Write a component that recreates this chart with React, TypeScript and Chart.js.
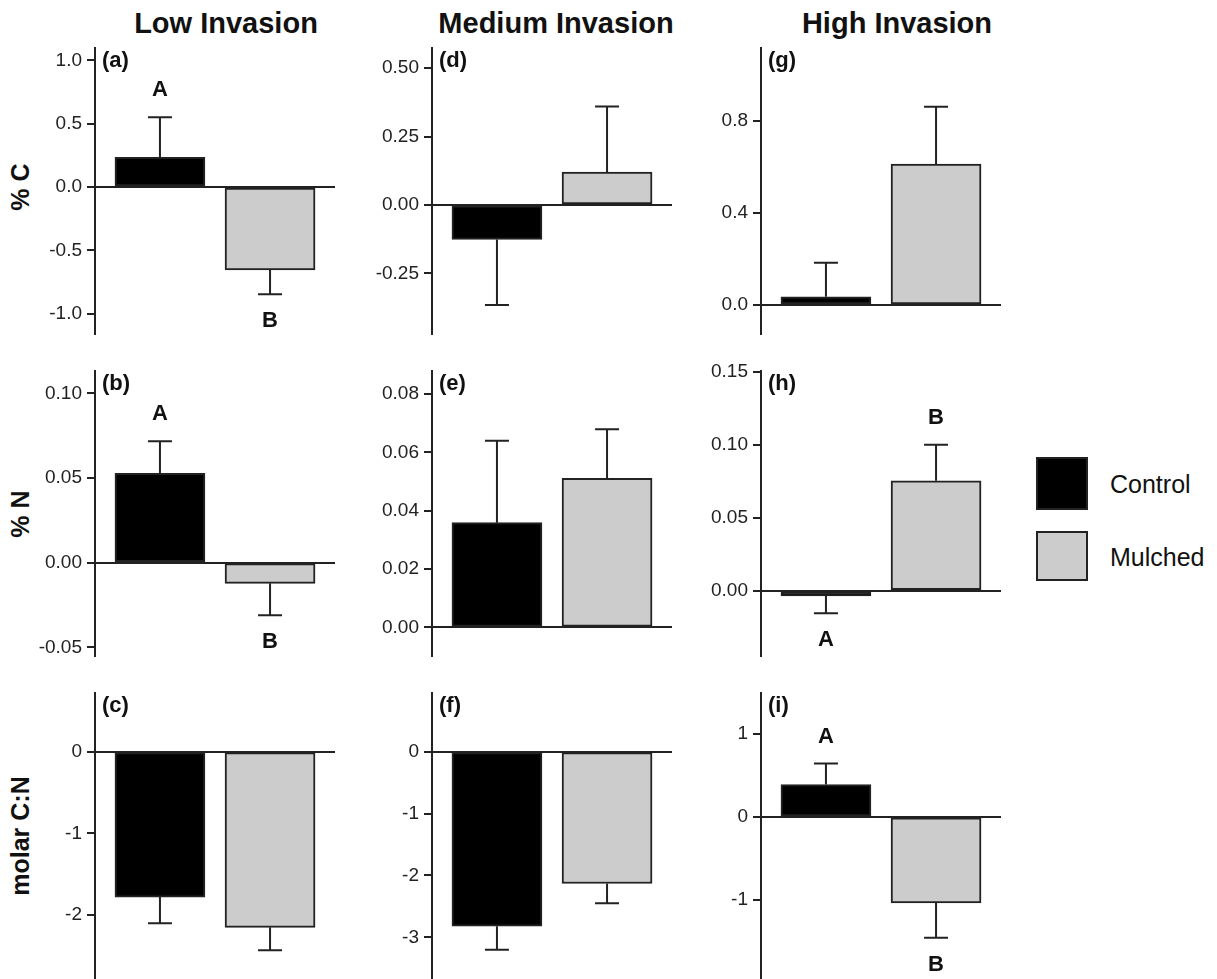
import React, { useEffect, useRef } from 'react';
import { Chart, registerables } from 'chart.js';

Chart.register(...registerables);

// ---------- data ----------
const columnTitles = ['Low Invasion', 'Medium Invasion', 'High Invasion'];
const rowTitles = ['% C', '% N', 'molar C:N'];
const treatments = ['Control', 'Mulched'];
const barColors = ['#000000', '#cccccc'];

// % C  (columns: Low, Medium, High)
const controlC = [0.234, -0.126, 0.036];
const mulchedC = [-0.655, 0.12, 0.613];
const controlCse = [0.316, 0.24, 0.148];
const mulchedCse = [0.192, 0.24, 0.249];
const ticksC = [[-1, -0.5, 0, 0.5, 1], [-0.25, 0, 0.25, 0.5], [0, 0.4, 0.8]];
const decimalsC = [1, 2, 1];
const rangeC = [[-1.16, 1.097], [-0.472, 0.574], [-0.126, 1.117]];
const sigC = [['A', 'B'], null, null];

// % N
const controlN = [0.0528, 0.0359, -0.0036];
const mulchedN = [-0.0122, 0.0511, 0.0753];
const controlNse = [0.0189, 0.0281, 0.0119];
const mulchedNse = [0.0188, 0.0168, 0.0247];
const ticksN = [[-0.05, 0, 0.05, 0.1], [0, 0.02, 0.04, 0.06, 0.08], [0, 0.05, 0.1, 0.15]];
const decimalsN = [2, 2, 2];
const rangeN = [[-0.0551, 0.1132], [-0.0098, 0.0879], [-0.0447, 0.1505]];
const sigN = [['A', 'B'], null, ['A', 'B']];

// molar C:N
const controlCN = [-1.78, -2.82, 0.39];
const mulchedCN = [-2.15, -2.13, -1.04];
const controlCNse = [0.32, 0.38, 0.255];
const mulchedCNse = [0.28, 0.32, 0.42];
const ticksCN = [[-2, -1, 0], [-3, -2, -1, 0], [-1, 0, 1]];
const decimalsCN = [0, 0, 0];
const rangeCN = [[-2.782, 0.718], [-3.672, 0.947], [-1.96, 1.497]];
const sigCN = [null, null, ['A', 'B']];

const panelLabels = [['(a)', '(d)', '(g)'], ['(b)', '(e)', '(h)'], ['(c)', '(f)', '(i)']];

// ---------- layout ----------
const FONT = '"Liberation Sans", Arial, Helvetica, sans-serif';
const AXIS_X = [95, 432, 761];
const AXIS_TOP = [48, 371, 693];
const AXIS_LEN = [286, 285, 286];
const Y_W = 90;
const PLOT_W = 240;
const PAD_T = 20;
const PAD_B = 20;
const PAD_R = 10;
const INK = '#222222';

type PanelDef = {
  row: number;
  col: number;
  means: number[];
  se: number[];
  ticks: number[];
  dec: number;
  range: number[];
  sig: string[] | null;
  label: string;
};

const rowsData = [
  { c: controlC, m: mulchedC, cs: controlCse, ms: mulchedCse, t: ticksC, d: decimalsC, r: rangeC, s: sigC },
  { c: controlN, m: mulchedN, cs: controlNse, ms: mulchedNse, t: ticksN, d: decimalsN, r: rangeN, s: sigN },
  { c: controlCN, m: mulchedCN, cs: controlCNse, ms: mulchedCNse, t: ticksCN, d: decimalsCN, r: rangeCN, s: sigCN },
];

const panels: PanelDef[] = [];
rowsData.forEach((rd, row) => {
  for (let col = 0; col < 3; col++) {
    panels.push({
      row,
      col,
      means: [rd.c[col], rd.m[col]],
      se: [rd.cs[col], rd.ms[col]],
      ticks: rd.t[col],
      dec: rd.d[col],
      range: rd.r[col],
      sig: rd.s[col],
      label: panelLabels[row][col],
    });
  }
});

function Panel({ p }: { p: PanelDef }) {
  const ref = useRef<HTMLCanvasElement>(null);
  const width = Y_W + PLOT_W + PAD_R;
  const height = AXIS_LEN[p.row] + PAD_T + PAD_B;

  useEffect(() => {
    const decor = {
      id: 'decor',
      afterDatasetsDraw(chart: any) {
        const ctx = chart.ctx;
        const meta = chart.getDatasetMeta(0);
        const ys = chart.scales.y;
        ctx.save();
        ctx.strokeStyle = INK;
        ctx.lineWidth = 2;
        meta.data.forEach((bar: any, i: number) => {
          const mean = p.means[i];
          const dir = mean >= 0 ? 1 : -1;
          const y0 = ys.getPixelForValue(mean);
          const y1 = ys.getPixelForValue(mean + dir * p.se[i]);
          ctx.beginPath();
          ctx.moveTo(bar.x, y0);
          ctx.lineTo(bar.x, y1);
          ctx.moveTo(bar.x - 12, y1);
          ctx.lineTo(bar.x + 12, y1);
          ctx.stroke();
          if (p.sig) {
            ctx.fillStyle = '#111';
            ctx.font = `bold 22px ${FONT}`;
            ctx.textAlign = 'center';
            ctx.textBaseline = 'middle';
            ctx.fillText(p.sig[i], bar.x, y1 - dir * 27);
          }
        });
        const area = chart.chartArea;
        ctx.fillStyle = '#111';
        ctx.font = `bold 22px ${FONT}`;
        ctx.textAlign = 'left';
        ctx.textBaseline = 'middle';
        ctx.fillText(p.label, area.left + 7, area.top + 13);
        ctx.restore();
      },
    };

    const chart = new Chart(ref.current as HTMLCanvasElement, {
      type: 'bar',
      data: {
        datasets: [
          {
            label: rowTitles[p.row],
            data: treatments.map((_, i) => ({ x: i + 1, y: p.means[i] })),
            backgroundColor: barColors,
            borderColor: INK,
            borderWidth: 2,
            borderSkipped: false,
            barThickness: 90,
          } as any,
        ],
      },
      options: {
        animation: false,
        responsive: false,
        maintainAspectRatio: false,
        layout: { padding: { top: PAD_T, bottom: PAD_B, left: 0, right: PAD_R } },
        plugins: { legend: { display: false }, tooltip: { enabled: false } },
        scales: {
          x: {
            type: 'linear',
            min: 0.41,
            max: 2.59,
            offset: false,
            grid: { offset: false },
            display: false,
          },
          y: {
            min: p.range[0],
            max: p.range[1],
            afterFit: (s: any) => {
              s.width = Y_W;
            },
            afterBuildTicks: (s: any) => {
              s.ticks = p.ticks.map((v) => ({ value: v }));
            },
            grid: {
              display: true,
              drawOnChartArea: true,
              drawTicks: true,
              tickLength: 8,
              lineWidth: 2,
              color: (c: any) => (c.tick && c.tick.value === 0 ? INK : 'rgba(0,0,0,0)'),
              tickColor: INK,
            },
            border: { display: true, color: INK, width: 2 },
            ticks: {
              autoSkip: false,
              padding: 5,
              color: INK,
              font: { family: FONT, size: 19 },
              callback: (v: any) => Number(v).toFixed(p.dec),
            },
          },
        },
      } as any,
      plugins: [decor],
    });
    return () => chart.destroy();
  }, []);

  return (
    <canvas
      ref={ref}
      width={width}
      height={height}
      style={{
        position: 'absolute',
        left: AXIS_X[p.col] - Y_W,
        top: AXIS_TOP[p.row] - PAD_T,
        width,
        height,
      }}
    />
  );
}

const titleX = [226, 556, 897];
const rowTitleY = [187, 514, 836];

export default function App() {
  return (
    <div
      style={{
        position: 'fixed',
        left: 0,
        top: 0,
        width: 1217,
        height: 979,
        overflow: 'hidden',
        background: '#fff',
        fontFamily: FONT,
        color: '#111',
      }}
    >
      {columnTitles.map((t, i) => (
        <div
          key={t}
          style={{
            position: 'absolute',
            left: titleX[i] - 150,
            top: 23 - 18,
            width: 300,
            height: 36,
            lineHeight: '36px',
            textAlign: 'center',
            fontWeight: 'bold',
            fontSize: 29,
          }}
        >
          {t}
        </div>
      ))}
      {rowTitles.map((t, i) => (
        <div
          key={t}
          style={{
            position: 'absolute',
            left: 20 - 100,
            top: rowTitleY[i] - 16,
            width: 200,
            height: 32,
            lineHeight: '32px',
            textAlign: 'center',
            fontWeight: 'bold',
            fontSize: 25,
            transform: 'rotate(-90deg)',
            whiteSpace: 'nowrap',
          }}
        >
          {t}
        </div>
      ))}
      {panels.map((p) => (
        <Panel key={p.label} p={p} />
      ))}
      {treatments.map((t, i) => (
        <React.Fragment key={t}>
          <div
            style={{
              position: 'absolute',
              left: 1036,
              top: i === 0 ? 457 : 531,
              width: 52,
              height: i === 0 ? 53 : 50,
              background: barColors[i],
              border: `2px solid ${INK}`,
              boxSizing: 'border-box',
            }}
          />
          <div
            style={{
              position: 'absolute',
              left: 1110,
              top: (i === 0 ? 484 : 557) - 16,
              height: 32,
              lineHeight: '32px',
              fontSize: 25,
              whiteSpace: 'nowrap',
            }}
          >
            {t}
          </div>
        </React.Fragment>
      ))}
    </div>
  );
}
